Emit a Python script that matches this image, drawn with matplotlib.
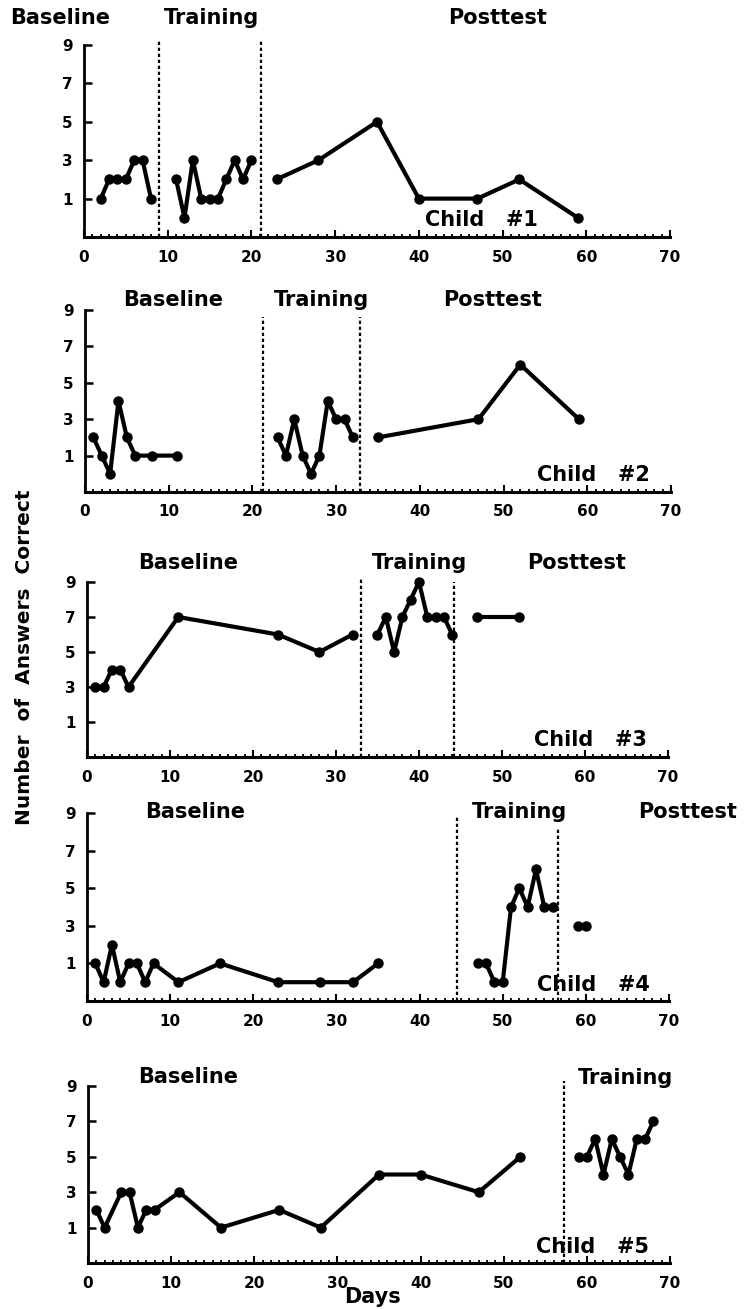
import matplotlib.pyplot as plt
from matplotlib.ticker import MultipleLocator

# ---- data (day, number of answers correct) ----
c1_base_x = [2, 3, 4, 5, 6, 7, 8]
c1_base_y = [1, 2, 2, 2, 3, 3, 1]
c1_train_x = [11, 12, 13, 14, 15, 16, 17, 18, 19, 20]
c1_train_y = [2, 0, 3, 1, 1, 1, 2, 3, 2, 3]
c1_post_x = [23, 28, 35, 40, 47, 52, 59]
c1_post_y = [2, 3, 5, 1, 1, 2, 0]
c1_phase = [9, 21.2]

c2_base_x = [1, 2, 3, 4, 5, 6, 8, 11]
c2_base_y = [2, 1, 0, 4, 2, 1, 1, 1]
c2_train_x = [23, 24, 25, 26, 27, 28, 29, 30, 31, 32]
c2_train_y = [2, 1, 3, 1, 0, 1, 4, 3, 3, 2]
c2_post_x = [35, 47, 52, 59]
c2_post_y = [2, 3, 6, 3]
c2_phase = [21.3, 32.8]

c3_base_x = [1, 2, 3, 4, 5, 11, 23, 28, 32]
c3_base_y = [3, 3, 4, 4, 3, 7, 6, 5, 6]
c3_train_x = [35, 36, 37, 38, 39, 40, 41, 42, 43, 44]
c3_train_y = [6, 7, 5, 7, 8, 9, 7, 7, 7, 6]
c3_post_x = [47, 52]
c3_post_y = [7, 7]
c3_phase = [33, 44.2]

c4_base_x = [1, 2, 3, 4, 5, 6, 7, 8, 11, 16, 23, 28, 32, 35]
c4_base_y = [1, 0, 2, 0, 1, 1, 0, 1, 0, 1, 0, 0, 0, 1]
c4_train_x = [47, 48, 49, 50, 51, 52, 53, 54, 55, 56]
c4_train_y = [1, 1, 0, 0, 4, 5, 4, 6, 4, 4]
c4_post_x = [59, 60]
c4_post_y = [3, 3]
c4_phase = [44.5, 56.6]

c5_base_x = [1, 2, 4, 5, 6, 7, 8, 11, 16, 23, 28, 35, 40, 47, 52]
c5_base_y = [2, 1, 3, 3, 1, 2, 2, 3, 1, 2, 1, 4, 4, 3, 5]
c5_train_x = [59, 60, 61, 62, 63, 64, 65, 66, 67, 68]
c5_train_y = [5, 5, 6, 4, 6, 5, 4, 6, 6, 7]
c5_phase = [57.3]

x_ticks = [0, 10, 20, 30, 40, 50, 60, 70]
y_ticks = [1, 3, 5, 7, 9]

W, H = 746, 1309
def fx(px):
    return px / W
def fy(py):
    return 1 - py / H

plt.rcParams['font.family'] = ['DejaVu Sans']
plt.rcParams['font.weight'] = 'bold'

fig = plt.figure(figsize=(W / 100, H / 100), dpi=100)

panels = [
    # (left, right, top, bottom) in pixels, series, phase lines, labels
    dict(box=(84, 670, 45, 237),
         series=[(c1_base_x, c1_base_y), (c1_train_x, c1_train_y), (c1_post_x, c1_post_y)],
         phase=c1_phase, tops=[9.2, 9.2],
         labels=[('Baseline', 60, 18), ('Training', 211, 18), ('Posttest', 498, 18),
                 ('Child   #1', 481, 220)]),
    dict(box=(85, 671, 310, 492),
         series=[(c2_base_x, c2_base_y), (c2_train_x, c2_train_y), (c2_post_x, c2_post_y)],
         phase=c2_phase, tops=[8.6, 8.6],
         labels=[('Baseline', 173, 300), ('Training', 322, 300), ('Posttest', 493, 300),
                 ('Child   #2', 593, 475)]),
    dict(box=(87, 668, 582, 757),
         series=[(c3_base_x, c3_base_y), (c3_train_x, c3_train_y), (c3_post_x, c3_post_y)],
         phase=c3_phase, tops=[9.3, 9.0],
         labels=[('Baseline', 188, 563), ('Training', 419, 563), ('Posttest', 577, 563),
                 ('Child   #3', 590, 740)]),
    dict(box=(87, 669, 813, 1001),
         series=[(c4_base_x, c4_base_y), (c4_train_x, c4_train_y), (c4_post_x, c4_post_y)],
         phase=c4_phase, tops=[8.8, 8.2],
         labels=[('Baseline', 195, 812), ('Training', 520, 812), ('Posttest', 688, 812),
                 ('Child   #4', 593, 985)]),
    dict(box=(88, 670, 1086, 1263),
         series=[(c5_base_x, c5_base_y), (c5_train_x, c5_train_y)],
         phase=c5_phase, tops=[9.3],
         labels=[('Baseline', 188, 1077), ('Training', 625, 1078),
                 ('Child   #5', 593, 1247)]),
]

for p in panels:
    l, r, t, b = p['box']
    ax = fig.add_axes([fx(l), fy(b), fx(r - l), (b - t) / H])
    for xs, ys in p['series']:
        ax.plot(xs, ys, color='black', lw=3, marker='o', ms=6.5, solid_joinstyle='round',
                clip_on=False, zorder=3)
    for xv, top in zip(p['phase'], p['tops']):
        ax.plot([xv, xv], [-1, top], color='black', lw=1.6, ls=(0, (1.5, 1.2)),
                clip_on=False, zorder=2)
    ax.set_xlim(0, 70)
    ax.set_ylim(-1, 9)
    ax.spines['top'].set_visible(False)
    ax.spines['right'].set_visible(False)
    ax.spines['left'].set_linewidth(2)
    ax.spines['bottom'].set_linewidth(2.2)
    ax.set_xticks(x_ticks)
    ax.set_yticks(y_ticks)
    ax.xaxis.set_minor_locator(MultipleLocator(1))
    ax.tick_params(axis='x', which='major', direction='in', length=5, width=1.5,
                   labelsize=11, pad=9)
    ax.tick_params(axis='x', which='minor', direction='in', length=2.5, width=1.3)
    ax.tick_params(axis='y', which='major', direction='in', length=6, width=1.8,
                   labelsize=11, pad=8)
    for lab in ax.get_xticklabels() + ax.get_yticklabels():
        lab.set_fontweight('bold')
    ax.patch.set_visible(False)
    for txt, px, py in p['labels']:
        fig.text(fx(px), fy(py), txt, ha='center', va='center', fontsize=15,
                 fontweight='bold')

fig.text(fx(25), fy(657), 'Number  of  Answers  Correct', rotation=90, ha='center',
         va='center', fontsize=14.5, fontweight='bold')
fig.text(fx(372), fy(1297), 'Days', ha='center', va='center', fontsize=15,
         fontweight='bold')

fig.savefig('out.png', dpi=100)
